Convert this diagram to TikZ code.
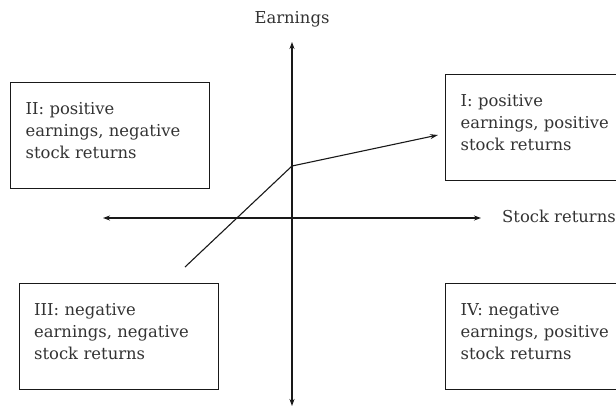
\documentclass[tikz,border=0pt]{standalone}
\usepackage{fontspec}
\setmainfont{DejaVu Serif}
\usetikzlibrary{arrows.meta}

\tikzset{
  quad/.style={draw=black!90, line width=1.3pt, rectangle, anchor=north west,
    align=left, text width=169pt, inner xsep=15pt, minimum height=106pt,
    text depth=55pt, text=black!80, font=\fontsize{16.4}{22}\selectfont},
  axlabel/.style={text=black!80, font=\fontsize{16.4}{22}\selectfont, inner sep=0pt},
  axis/.style={line width=1.1pt, draw=black!90, {Stealth[length=7pt,width=5pt]}-{Stealth[length=7pt,width=5pt]}}
}

\begin{document}
\begin{tikzpicture}[x=1pt, y=-1pt]
\useasboundingbox (0,0) rectangle (616,408);

\node (earn) at (292,19) [axlabel] {Earnings};
\node (ret) at (502,216) [axlabel, anchor=west] {Stock returns};

\coordinate (ytop) at (292,42);
\coordinate (ybot) at (292,406);
\coordinate (xleft) at (103,218);
\coordinate (xright) at (481,218);
\draw[axis] (ybot) -- (ytop);
\draw[axis] (xleft) -- (xright);

\node (q2) at (10,82) [quad] {II: positive\\earnings, negative\\stock returns};
\node (q1) at (445,74) [quad] {I: positive\\earnings, positive\\stock returns};
\node (q3) at (18.5,283) [quad] {III: negative\\earnings, negative\\stock returns};
\node (q4) at (445,283) [quad] {IV: negative\\earnings, positive\\stock returns};

\coordinate (low) at (185,267);
\coordinate (kink) at (292,166);
\coordinate (tip) at (438,135);
\draw[line width=1.1pt, black!90] (low) -- (kink) edge[-{Stealth[length=8pt,width=5pt]}] (tip);
\end{tikzpicture}
\end{document}
